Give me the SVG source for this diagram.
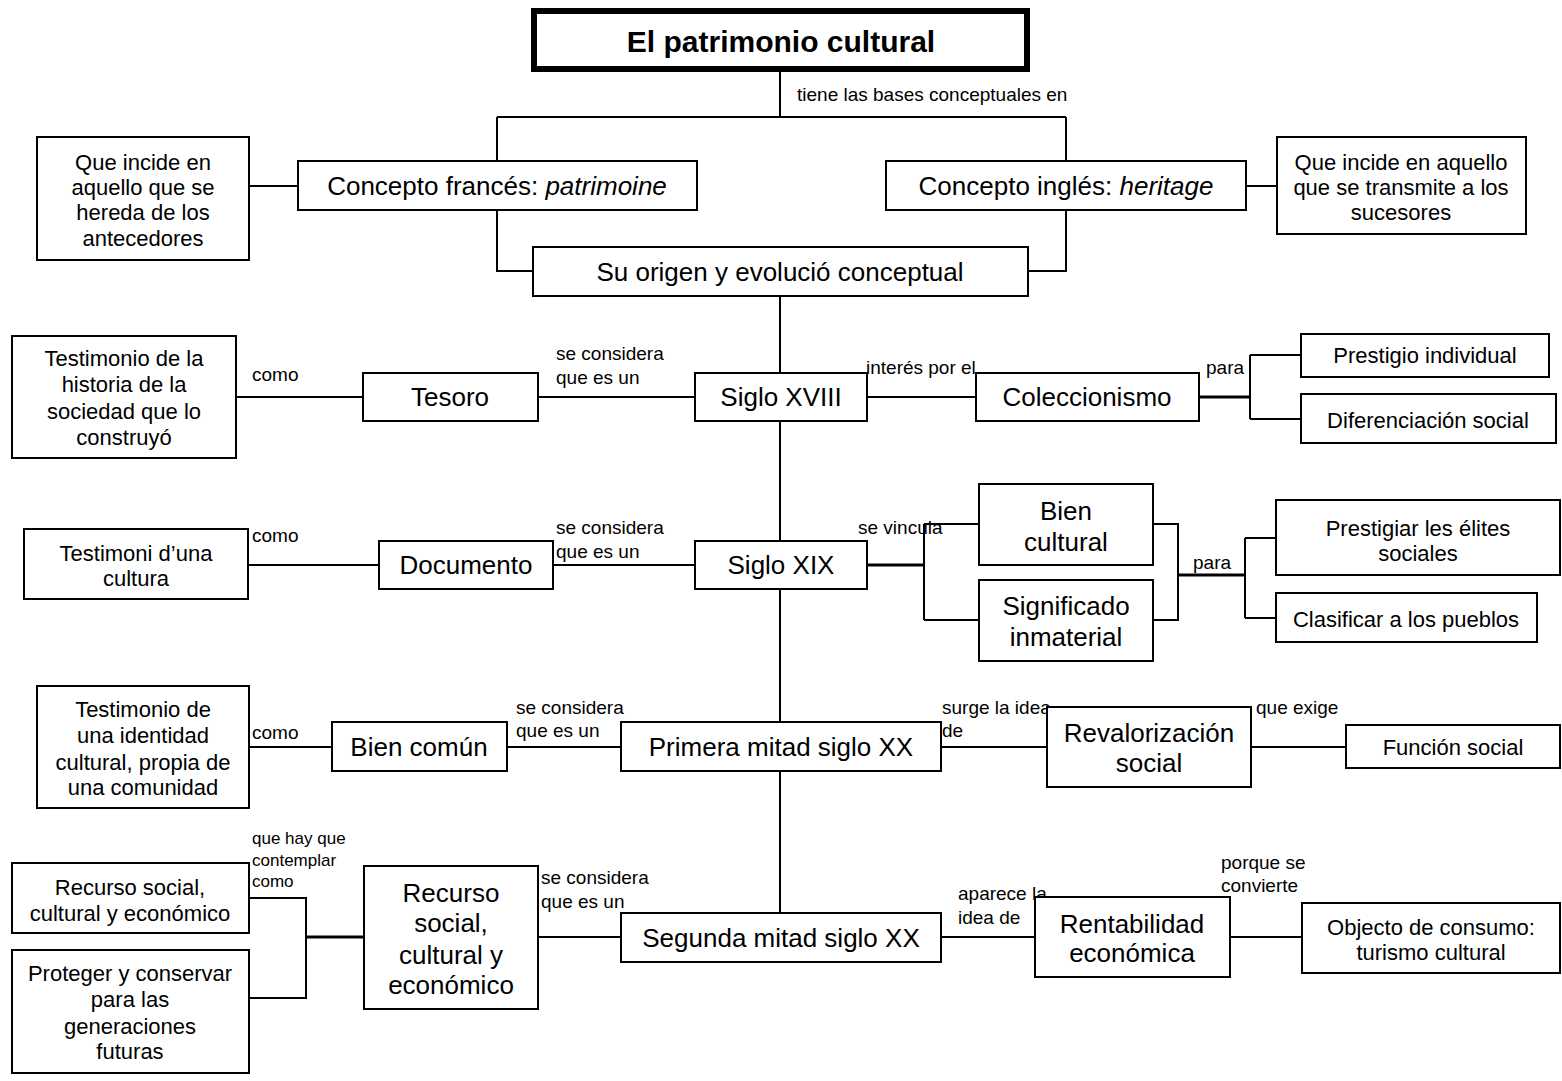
<svg xmlns="http://www.w3.org/2000/svg" width="1562" height="1081" viewBox="0 0 1562 1081">
<style>
text{font-family:"Liberation Sans",Arial,sans-serif;fill:#000}
.b{fill:#fff;stroke:#000;stroke-width:2}
.t{stroke:#000;stroke-width:6;fill:#fff}
.L{font-size:26px;text-anchor:middle}
.M{font-size:22px;text-anchor:middle}
.S{font-size:19px}
.XS{font-size:17px}
.h{font-size:30px;font-weight:bold;text-anchor:middle}
#connectors path{fill:none;stroke:#000;stroke-width:2}
#connectors path.k{stroke-width:3}
</style>
<rect width="1562" height="1081" fill="#fff"/>
<g id="connectors">
<path d="M780,72V117M497,117H1066M497,117V161M1066,117V161"/>
<path d="M249,186H298M1246,186H1277"/>
<path d="M497,210V271H533M1066,210V271H1028"/>
<path d="M780,296V913"/>
<path d="M236,397H363M538,397H695M867,397H976"/>
<path class="k" d="M1199,397H1250"/>
<path d="M1250,355V419M1250,355H1301M1250,419H1301"/>
<path d="M248,565H379M553,565H695"/>
<path class="k" d="M867,565H924"/>
<path d="M924,524V620M924,524H979M924,620H979"/>
<path d="M1153,524H1178V620H1153"/>
<path class="k" d="M1178,575H1245"/>
<path d="M1245,538V618M1245,538H1277M1245,618H1277"/>
<path d="M249,747H332M507,747H621M941,747H1047M1251,747H1346"/>
<path d="M249,898H306V998H249"/>
<path class="k" d="M306,937H364"/>
<path d="M538,937H621M941,937H1035M1230,937H1302"/>
</g>
<g id="labels">
<text class="S" x="797" y="101">tiene las bases conceptuales en</text>
<text class="S" x="252" y="381">como</text>
<text class="S" x="556" y="360">se considera</text>
<text class="S" x="556" y="384">que es un</text>
<text class="S" x="866" y="374">interés por el</text>
<text class="S" x="1206" y="374">para</text>
<text class="S" x="252" y="542">como</text>
<text class="S" x="556" y="534">se considera</text>
<text class="S" x="556" y="558">que es un</text>
<text class="S" x="858" y="534">se vincula</text>
<text class="S" x="1193" y="569">para</text>
<text class="S" x="252" y="739">como</text>
<text class="S" x="516" y="714">se considera</text>
<text class="S" x="516" y="737">que es un</text>
<text class="S" x="942" y="714">surge la idea</text>
<text class="S" x="942" y="737">de</text>
<text class="S" x="1256" y="714">que exige</text>
<text class="XS" x="252" y="844">que hay que</text>
<text class="XS" x="252" y="866">contemplar</text>
<text class="XS" x="252" y="887">como</text>
<text class="S" x="541" y="884">se considera</text>
<text class="S" x="541" y="908">que es un</text>
<text class="S" x="958" y="900">aparece la</text>
<text class="S" x="958" y="924">idea de</text>
<text class="S" x="1221" y="869">porque se</text>
<text class="S" x="1221" y="892">convierte</text>
</g>
<g id="n-title"><rect class="t" x="534" y="11" width="493" height="58"/><text class="h" x="781" y="52">El patrimonio cultural</text></g>
<g id="n-hereda"><rect class="b" x="37" y="137" width="212" height="123"/>
<text class="M" x="143" y="170">Que incide en</text><text class="M" x="143" y="195">aquello que se</text><text class="M" x="143" y="220">hereda de los</text><text class="M" x="143" y="246">antecedores</text></g>
<g id="n-frances"><rect class="b" x="298" y="161" width="399" height="49"/><text class="L" x="497" y="195">Concepto francés: <tspan font-style="italic">patrimoine</tspan></text></g>
<g id="n-ingles"><rect class="b" x="886" y="161" width="360" height="49"/><text class="L" x="1066" y="195">Concepto inglés: <tspan font-style="italic">heritage</tspan></text></g>
<g id="n-transmite"><rect class="b" x="1277" y="137" width="249" height="97"/>
<text class="M" x="1401" y="170">Que incide en aquello</text><text class="M" x="1401" y="195">que se transmite a los</text><text class="M" x="1401" y="220">sucesores</text></g>
<g id="n-origen"><rect class="b" x="533" y="247" width="495" height="49"/><text class="L" x="780" y="281">Su origen y evolució conceptual</text></g>
<g id="n-testimonio1"><rect class="b" x="12" y="336" width="224" height="122"/>
<text class="M" x="124" y="366">Testimonio de la</text><text class="M" x="124" y="392">historia de la</text><text class="M" x="124" y="419">sociedad que lo</text><text class="M" x="124" y="445">construyó</text></g>
<g id="n-tesoro"><rect class="b" x="363" y="373" width="175" height="48"/><text class="L" x="450" y="406">Tesoro</text></g>
<g id="n-xviii"><rect class="b" x="695" y="373" width="172" height="48"/><text class="L" x="781" y="406">Siglo XVIII</text></g>
<g id="n-coleccionismo"><rect class="b" x="976" y="373" width="223" height="48"/><text class="L" x="1087" y="406">Coleccionismo</text></g>
<g id="n-prestigio"><rect class="b" x="1301" y="334" width="248" height="43"/><text class="M" x="1425" y="363">Prestigio individual</text></g>
<g id="n-diferenciacion"><rect class="b" x="1301" y="394" width="255" height="49"/><text class="M" x="1428" y="428">Diferenciación social</text></g>
<g id="n-testimoni"><rect class="b" x="24" y="529" width="224" height="70"/>
<text class="M" x="136" y="561">Testimoni d’una</text><text class="M" x="136" y="586">cultura</text></g>
<g id="n-documento"><rect class="b" x="379" y="541" width="174" height="48"/><text class="L" x="466" y="574">Documento</text></g>
<g id="n-xix"><rect class="b" x="695" y="541" width="172" height="48"/><text class="L" x="781" y="574">Siglo XIX</text></g>
<g id="n-bien"><rect class="b" x="979" y="484" width="174" height="81"/>
<text class="L" x="1066" y="520">Bien</text><text class="L" x="1066" y="551">cultural</text></g>
<g id="n-significado"><rect class="b" x="979" y="580" width="174" height="81"/>
<text class="L" x="1066" y="615">Significado</text><text class="L" x="1066" y="646">inmaterial</text></g>
<g id="n-prestigiar"><rect class="b" x="1276" y="500" width="284" height="75"/>
<text class="M" x="1418" y="536">Prestigiar les élites</text><text class="M" x="1418" y="561">sociales</text></g>
<g id="n-clasificar"><rect class="b" x="1276" y="593" width="261" height="49"/><text class="M" x="1406" y="627">Clasificar a los pueblos</text></g>
<g id="n-testimonio2"><rect class="b" x="37" y="686" width="212" height="122"/>
<text class="M" x="143" y="717">Testimonio de</text><text class="M" x="143" y="743">una identidad</text><text class="M" x="143" y="770">cultural, propia de</text><text class="M" x="143" y="795">una comunidad</text></g>
<g id="n-biencomun"><rect class="b" x="332" y="722" width="175" height="49"/><text class="L" x="419" y="756">Bien común</text></g>
<g id="n-primera"><rect class="b" x="621" y="722" width="320" height="49"/><text class="L" x="781" y="756">Primera mitad siglo XX</text></g>
<g id="n-revalorizacion"><rect class="b" x="1047" y="707" width="204" height="80"/>
<text class="L" x="1149" y="742">Revalorización</text><text class="L" x="1149" y="772">social</text></g>
<g id="n-funcion"><rect class="b" x="1346" y="725" width="214" height="43"/><text class="M" x="1453" y="755">Función social</text></g>
<g id="n-recurso-left"><rect class="b" x="12" y="863" width="237" height="70"/>
<text class="M" x="130" y="895">Recurso social,</text><text class="M" x="130" y="921">cultural y económico</text></g>
<g id="n-proteger"><rect class="b" x="12" y="950" width="237" height="123"/>
<text class="M" x="130" y="981">Proteger y conservar</text><text class="M" x="130" y="1007">para las</text><text class="M" x="130" y="1034">generaciones</text><text class="M" x="130" y="1059">futuras</text></g>
<g id="n-recurso"><rect class="b" x="364" y="866" width="174" height="143"/>
<text class="L" x="451" y="902">Recurso</text><text class="L" x="451" y="932">social,</text><text class="L" x="451" y="964">cultural y</text><text class="L" x="451" y="994">económico</text></g>
<g id="n-segunda"><rect class="b" x="621" y="913" width="320" height="49"/><text class="L" x="781" y="947">Segunda mitad siglo XX</text></g>
<g id="n-rentabilidad"><rect class="b" x="1035" y="897" width="195" height="80"/>
<text class="L" x="1132" y="933">Rentabilidad</text><text class="L" x="1132" y="962">económica</text></g>
<g id="n-objecto"><rect class="b" x="1302" y="903" width="258" height="70"/>
<text class="M" x="1431" y="935">Objecto de consumo:</text><text class="M" x="1431" y="960">turismo cultural</text></g>
</svg>
